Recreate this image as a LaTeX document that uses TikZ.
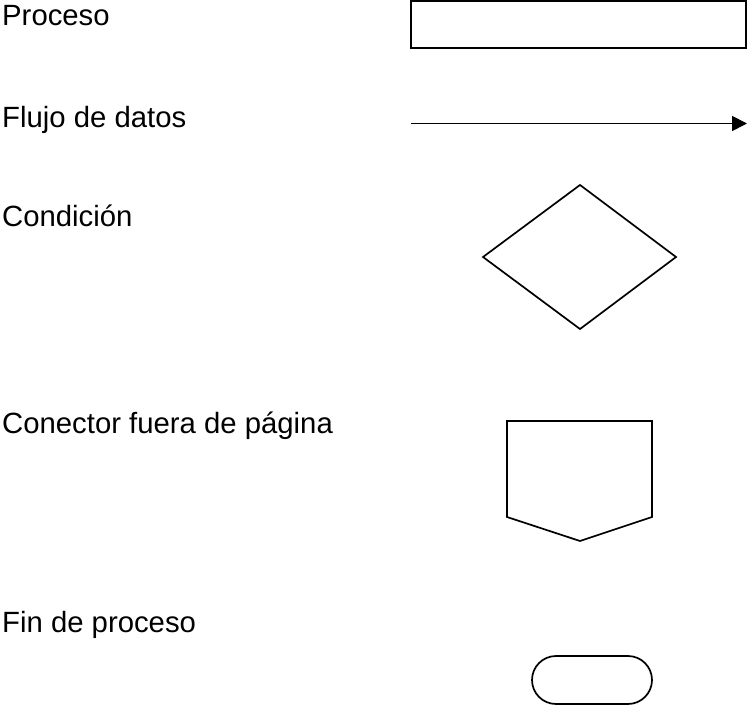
\documentclass[tikz,border=0pt]{standalone}
\usepackage{fontspec}
\setmainfont{Liberation Sans}
\usetikzlibrary{arrows.meta}
\begin{document}
\begin{tikzpicture}[x=1pt,y=-1pt,
  lbl/.style={anchor=base west,inner sep=0pt,font=\fontsize{29.3}{33}\selectfont},
  shp/.style={draw=black,line width=1.7pt,line join=miter},
  flow/.style={draw=black,line width=1.8pt,-{Triangle[length=15pt,width=15pt]}}]
\useasboundingbox (0,0) rectangle (747,708);
% labels
\node[lbl] (tproc) at (2,26) {Proceso};
\node[lbl] (tflujo) at (2,128) {Flujo de datos};
\node[lbl] (tcond) at (2,227) {Condición};
\node[lbl] (tcon) at (2,433) {Conector fuera de página};
\node[lbl] (tfin) at (2,632) {Fin de proceso};
% proceso
\draw[shp] (411,1) rectangle (746,48);
% flujo
\coordinate (fa) at (411,123.5);
\coordinate (fb) at (747,123.5);
\draw[flow] (fa) -- (fb);
% condicion
\draw[shp] (580,185) -- (676,257) -- (580,329) -- (483,257) -- cycle;
% conector fuera de pagina
\draw[shp] (507,421) -- (652,421) -- (652,517) -- (580,541) -- (507,517) -- cycle;
% fin de proceso
\draw[shp,rounded corners=24pt] (532,656) rectangle (652,704);
\end{tikzpicture}
\end{document}
